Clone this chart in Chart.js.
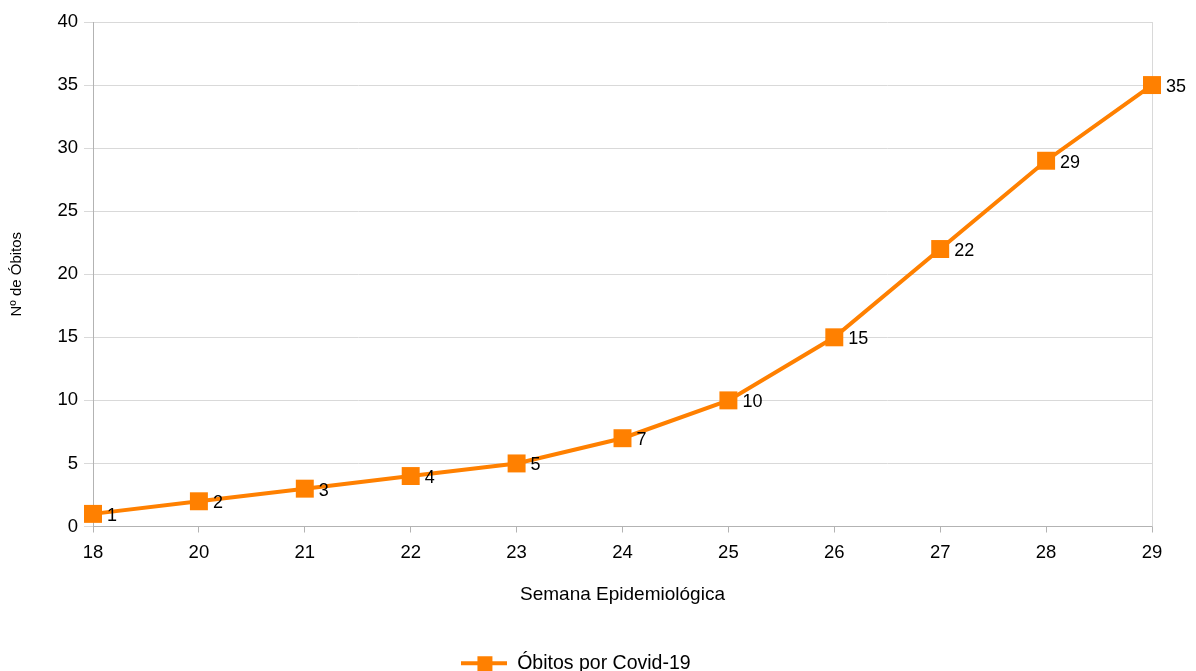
<!DOCTYPE html>
<html><head><meta charset="utf-8">
<script src="https://cdn.jsdelivr.net/npm/chart.js@4"></script>
<style>html,body{margin:0;padding:0;background:#fff}#wrap{width:1196px;height:671px}</style>
</head><body><div id="wrap"><canvas id="c" width="1196" height="671"></canvas></div>
<script>
const weeks = ['18','20','21','22','23','24','25','26','27','28','29'];
const deaths = [1,2,3,4,5,7,10,15,22,29,35];
const seriesName = 'Óbitos por Covid-19';
const yTitle = 'Nº de Óbitos';
const xTitle = 'Semana Epidemiológica';
const orange = '#ff8000';
const FONT = "'Liberation Sans', Arial, sans-serif";
const gridColor = '#d9d9d9';
const axisColor = '#b3b3b3';

// legend icon: line with square
const icon = document.createElement('canvas');
icon.width = 46; icon.height = 18;
(function(){const g=icon.getContext('2d');g.strokeStyle=orange;g.lineWidth=4;g.beginPath();g.moveTo(0,9);g.lineTo(46,9);g.stroke();g.fillStyle=orange;g.fillRect(16,2,15,15);})();

const labelPlugin = {
  id:'vals',
  afterDatasetsDraw(chart){
    const ctx=chart.ctx; const meta=chart.getDatasetMeta(0);
    ctx.save(); ctx.font='18px '+FONT; ctx.fillStyle='#000'; ctx.textBaseline='middle'; ctx.textAlign='left';
    meta.data.forEach((p,i)=>{ctx.fillText(String(deaths[i]), p.x+14, p.y+2);});
    ctx.restore();
  }
};
const borderPlugin = {
  id:'rborder',
  beforeDatasetsDraw(chart){
    const a=chart.chartArea, ctx=chart.ctx;
    ctx.save(); ctx.strokeStyle=gridColor; ctx.lineWidth=1;
    ctx.beginPath(); ctx.moveTo(Math.round(a.right)+0.5,a.top); ctx.lineTo(Math.round(a.right)+0.5,a.bottom); ctx.stroke();
    ctx.restore();
  }
};

new Chart(document.getElementById('c'), {
  type:'line',
  data:{labels:weeks, datasets:[{label:seriesName, data:deaths, borderColor:orange, backgroundColor:orange,
    borderWidth:4, pointStyle:'rect', pointRadius:12.7, pointHoverRadius:12.7, pointBackgroundColor:orange, pointBorderWidth:0, tension:0, clip:false}]},
  options:{
    responsive:false, animation:false, devicePixelRatio:1,
    layout:{padding:{top:22, right:44, bottom:-12, left:0}},
    plugins:{
      tooltip:{enabled:false},
      legend:{position:'bottom', labels:{usePointStyle:true, pointStyleWidth:46, padding:6, color:'#000', font:{family:FONT,size:19.5},
        generateLabels(chart){return [{text:seriesName, pointStyle:icon, fillStyle:orange, strokeStyle:orange, lineWidth:0, datasetIndex:0, fontColor:'#000'}];}}}
    },
    scales:{
      x:{offset:false,
        grid:{drawOnChartArea:false, color:axisColor, tickLength:6, tickColor:axisColor},
        border:{color:axisColor},
        ticks:{color:'#000', font:{family:FONT,size:18.5}, padding:9, maxRotation:0, autoSkip:false},
        title:{display:true, text:xTitle, color:'#000', font:{family:FONT,size:19}, padding:{top:24,bottom:41}},
        afterFit(s){s.height=121;}
      },
      y:{min:0,max:40,
        grid:{color:gridColor, tickLength:9, tickColor:gridColor},
        border:{color:axisColor},
        ticks:{stepSize:5, color:'#000', font:{family:FONT,size:18.5}, padding:6},
        title:{display:true, text:yTitle, color:'#000', font:{family:FONT,size:15}, padding:{top:8,bottom:0}},
        afterFit(s){s.width=93;}
      }
    }
  },
  plugins:[borderPlugin,labelPlugin]
});
</script></body></html>
